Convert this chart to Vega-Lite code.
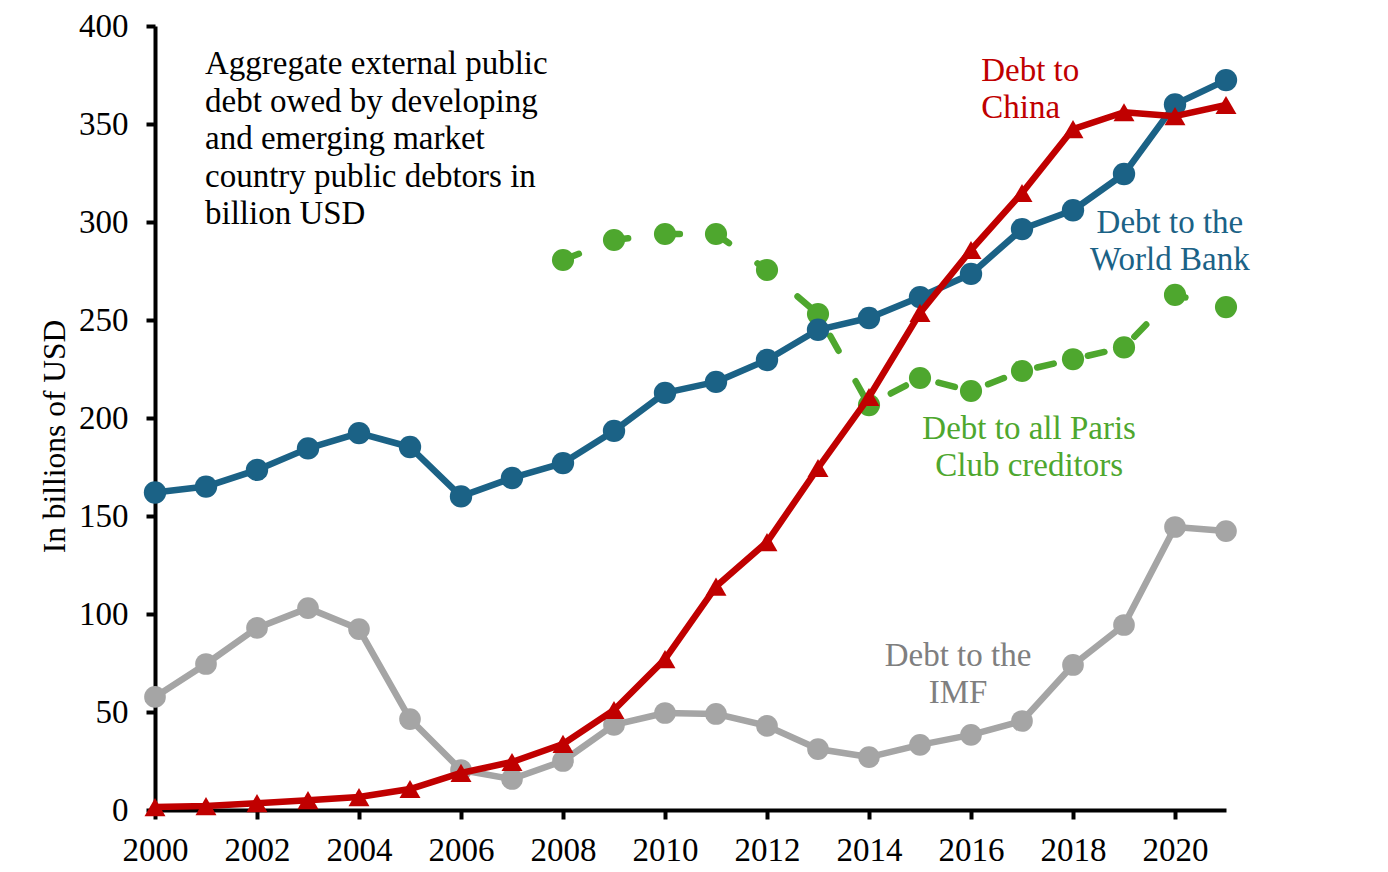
{
  "$schema": "https://vega.github.io/schema/vega-lite/v6.json",
  "autosize": "none",
  "width": 1071,
  "height": 784,
  "padding": {"left": 155, "top": 26, "right": 162, "bottom": 62},
  "background": "white",
  "config": {
    "view": {"stroke": null},
    "font": "Liberation Serif",
    "text": {"font": "Liberation Serif", "fontSize": 33, "lineHeight": 37.5},
    "line": {"strokeJoin": "round"}
  },
  "datasets": {
    "debt": [
      {"year": 2000, "series": "World Bank", "value": 162}, {"year": 2001, "series": "World Bank", "value": 165},
      {"year": 2002, "series": "World Bank", "value": 173.5}, {"year": 2003, "series": "World Bank", "value": 184.5},
      {"year": 2004, "series": "World Bank", "value": 192.3}, {"year": 2005, "series": "World Bank", "value": 185.2},
      {"year": 2006, "series": "World Bank", "value": 160}, {"year": 2007, "series": "World Bank", "value": 169.4},
      {"year": 2008, "series": "World Bank", "value": 177}, {"year": 2009, "series": "World Bank", "value": 193.4},
      {"year": 2010, "series": "World Bank", "value": 212.8}, {"year": 2011, "series": "World Bank", "value": 218.4},
      {"year": 2012, "series": "World Bank", "value": 229.6}, {"year": 2013, "series": "World Bank", "value": 245},
      {"year": 2014, "series": "World Bank", "value": 251}, {"year": 2015, "series": "World Bank", "value": 261.7},
      {"year": 2016, "series": "World Bank", "value": 273.5}, {"year": 2017, "series": "World Bank", "value": 296.4},
      {"year": 2018, "series": "World Bank", "value": 306}, {"year": 2019, "series": "World Bank", "value": 324.5},
      {"year": 2020, "series": "World Bank", "value": 360}, {"year": 2021, "series": "World Bank", "value": 372.4},

      {"year": 2000, "series": "China", "value": 1.5}, {"year": 2001, "series": "China", "value": 2},
      {"year": 2002, "series": "China", "value": 3.5}, {"year": 2003, "series": "China", "value": 5},
      {"year": 2004, "series": "China", "value": 6.6}, {"year": 2005, "series": "China", "value": 10.7},
      {"year": 2006, "series": "China", "value": 18.9}, {"year": 2007, "series": "China", "value": 24.5},
      {"year": 2008, "series": "China", "value": 33.7}, {"year": 2009, "series": "China", "value": 51},
      {"year": 2010, "series": "China", "value": 77}, {"year": 2011, "series": "China", "value": 114},
      {"year": 2012, "series": "China", "value": 136.7}, {"year": 2013, "series": "China", "value": 174.5},
      {"year": 2014, "series": "China", "value": 210.7}, {"year": 2015, "series": "China", "value": 253.6},
      {"year": 2016, "series": "China", "value": 285.7}, {"year": 2017, "series": "China", "value": 314.8},
      {"year": 2018, "series": "China", "value": 347.4}, {"year": 2019, "series": "China", "value": 356},
      {"year": 2020, "series": "China", "value": 354}, {"year": 2021, "series": "China", "value": 359.7},

      {"year": 2000, "series": "IMF", "value": 57.7}, {"year": 2001, "series": "IMF", "value": 74.5},
      {"year": 2002, "series": "IMF", "value": 92.9}, {"year": 2003, "series": "IMF", "value": 103},
      {"year": 2004, "series": "IMF", "value": 92.3}, {"year": 2005, "series": "IMF", "value": 46.4},
      {"year": 2006, "series": "IMF", "value": 20.4}, {"year": 2007, "series": "IMF", "value": 15.8},
      {"year": 2008, "series": "IMF", "value": 25}, {"year": 2009, "series": "IMF", "value": 43.4},
      {"year": 2010, "series": "IMF", "value": 49.5}, {"year": 2011, "series": "IMF", "value": 49},
      {"year": 2012, "series": "IMF", "value": 42.9}, {"year": 2013, "series": "IMF", "value": 31.1},
      {"year": 2014, "series": "IMF", "value": 27}, {"year": 2015, "series": "IMF", "value": 33.2},
      {"year": 2016, "series": "IMF", "value": 38.3}, {"year": 2017, "series": "IMF", "value": 45.4},
      {"year": 2018, "series": "IMF", "value": 74}, {"year": 2019, "series": "IMF", "value": 94.4},
      {"year": 2020, "series": "IMF", "value": 144.4}, {"year": 2021, "series": "IMF", "value": 142.3},

      {"year": 2008, "series": "Paris Club", "value": 280.6}, {"year": 2009, "series": "Paris Club", "value": 290.8},
      {"year": 2010, "series": "Paris Club", "value": 293.9}, {"year": 2011, "series": "Paris Club", "value": 293.9},
      {"year": 2012, "series": "Paris Club", "value": 275.5}, {"year": 2013, "series": "Paris Club", "value": 253},
      {"year": 2014, "series": "Paris Club", "value": 206.6}, {"year": 2015, "series": "Paris Club", "value": 220.4},
      {"year": 2016, "series": "Paris Club", "value": 213.8}, {"year": 2017, "series": "Paris Club", "value": 224},
      {"year": 2018, "series": "Paris Club", "value": 230}, {"year": 2019, "series": "Paris Club", "value": 236},
      {"year": 2020, "series": "Paris Club", "value": 262.8}, {"year": 2021, "series": "Paris Club", "value": 256.6}
    ],
    "labels": [
      {"key": "note", "year": 2000.98, "value": 375.5, "label": "Aggregate external public\ndebt owed by developing\nand emerging market\ncountry public debtors in\nbillion USD"},
      {"key": "China", "year": 2016.2, "value": 372, "label": "Debt to\nChina"},
      {"key": "World Bank", "year": 2019.9, "value": 294.5, "label": "Debt to the\nWorld Bank"},
      {"key": "Paris Club", "year": 2017.14, "value": 189.3, "label": "Debt to all Paris\nClub creditors"},
      {"key": "IMF", "year": 2015.745, "value": 73.5, "label": "Debt to the\nIMF"}
    ]
  },
  "data": {"name": "debt"},
  "encoding": {
    "x": {
      "field": "year",
      "type": "quantitative",
      "scale": {"domain": [2000, 2021], "nice": false, "zero": false},
      "axis": {
        "title": null,
        "values": [2000, 2002, 2004, 2006, 2008, 2010, 2012, 2014, 2016, 2018, 2020],
        "format": "d",
        "grid": false,
        "domainColor": "black",
        "domainWidth": 4,
        "tickColor": "black",
        "tickWidth": 4,
        "tickSize": 9,
        "labelFont": "Liberation Serif",
        "labelFontSize": 33,
        "labelColor": "black",
        "labelPadding": 15,
        "labelFlush": false,
        "labelOverlap": false
      }
    },
    "y": {
      "field": "value",
      "type": "quantitative",
      "scale": {"domain": [0, 400], "nice": false},
      "axis": {
        "title": "In billions of USD",
        "values": [0, 50, 100, 150, 200, 250, 300, 350, 400],
        "grid": false,
        "domainColor": "black",
        "domainWidth": 4,
        "tickColor": "black",
        "tickWidth": 4,
        "tickSize": 9,
        "labelFont": "Liberation Serif",
        "labelFontSize": 33,
        "labelColor": "black",
        "labelPadding": 18,
        "labelFlush": false,
        "titleFont": "Liberation Serif",
        "titleFontSize": 31.5,
        "titleFontWeight": "normal",
        "titleColor": "black",
        "titleAngle": -90,
        "titleAlign": "center",
        "titleBaseline": "alphabetic",
        "titleX": -91,
        "titleY": 410
      }
    }
  },
  "layer": [
    {
      "transform": [{"filter": "datum.series === 'Paris Club'"}],
      "mark": {"type": "line", "color": "#4EA72E", "strokeWidth": 6.5, "strokeDash": [17, 35], "strokeCap": "round"}
    },
    {
      "transform": [{"filter": "datum.series === 'Paris Club'"}],
      "mark": {"type": "point", "shape": "circle", "filled": true, "opacity": 1, "size": 490, "color": "#4EA72E"}
    },
    {
      "transform": [{"filter": "datum.series === 'IMF'"}],
      "mark": {"type": "line", "color": "#A5A5A5", "strokeWidth": 6.5}
    },
    {
      "transform": [{"filter": "datum.series === 'IMF'"}],
      "mark": {"type": "point", "shape": "circle", "filled": true, "opacity": 1, "size": 470, "color": "#A5A5A5"}
    },
    {
      "transform": [{"filter": "datum.series === 'World Bank'"}],
      "mark": {"type": "line", "color": "#1B6286", "strokeWidth": 6.5}
    },
    {
      "transform": [{"filter": "datum.series === 'World Bank'"}],
      "mark": {"type": "point", "shape": "circle", "filled": true, "opacity": 1, "size": 500, "color": "#1B6286"}
    },
    {
      "transform": [{"filter": "datum.series === 'China'"}],
      "mark": {"type": "line", "color": "#C00000", "strokeWidth": 6.5}
    },
    {
      "transform": [{"filter": "datum.series === 'China'"}],
      "mark": {"type": "point", "shape": "triangle-up", "filled": true, "opacity": 1, "size": 440, "color": "#C00000"}
    },
    {
      "data": {"name": "labels"},
      "transform": [{"filter": "datum.key === 'note'"}],
      "mark": {"type": "text", "align": "left", "baseline": "alphabetic", "lineBreak": "\n", "color": "black"},
      "encoding": {"text": {"field": "label"}}
    },
    {
      "data": {"name": "labels"},
      "transform": [{"filter": "datum.key === 'China'"}],
      "mark": {"type": "text", "align": "left", "baseline": "alphabetic", "lineBreak": "\n", "color": "#C00000"},
      "encoding": {"text": {"field": "label"}}
    },
    {
      "data": {"name": "labels"},
      "transform": [{"filter": "datum.key === 'World Bank'"}],
      "mark": {"type": "text", "align": "center", "baseline": "alphabetic", "lineBreak": "\n", "color": "#1B6286"},
      "encoding": {"text": {"field": "label"}}
    },
    {
      "data": {"name": "labels"},
      "transform": [{"filter": "datum.key === 'Paris Club'"}],
      "mark": {"type": "text", "align": "center", "baseline": "alphabetic", "lineBreak": "\n", "color": "#4EA72E"},
      "encoding": {"text": {"field": "label"}}
    },
    {
      "data": {"name": "labels"},
      "transform": [{"filter": "datum.key === 'IMF'"}],
      "mark": {"type": "text", "align": "center", "baseline": "alphabetic", "lineBreak": "\n", "color": "#7F7F7F"},
      "encoding": {"text": {"field": "label"}}
    }
  ]
}
